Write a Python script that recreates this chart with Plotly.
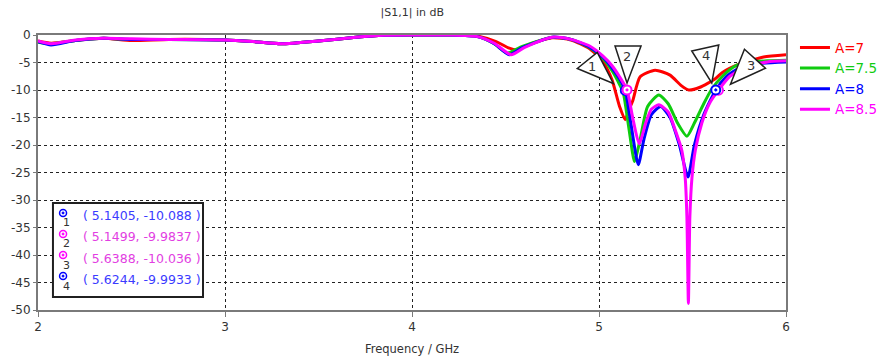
import plotly.graph_objects as go

# S11 sweeps for four values of the parameter A
series_names = ["A=7", "A=7.5", "A=8", "A=8.5"]
series_colors = ["#ff0000", "#10cc10", "#0000ff", "#ff00ff"]

freq_a7 = [2.0, 2.07, 2.2, 2.35, 2.5, 2.7, 3.0, 3.15, 3.3, 3.5, 3.7, 3.85, 4.0, 4.2, 4.35,
           4.45, 4.52, 4.56, 4.62, 4.75, 4.85, 4.95, 5.02, 5.07, 5.11, 5.14, 5.16, 5.18,
           5.22, 5.30, 5.38, 5.44, 5.48, 5.54, 5.62, 5.66, 5.75, 5.88, 6.0]
s11_a7 = [-1.1, -1.5, -1.0, -0.6, -1.0, -0.8, -0.9, -1.2, -1.6, -1.1, -0.4, -0.05, 0.0, 0.0, -0.2,
          -1.2, -2.4, -2.7, -1.8, -0.5, -0.9, -2.5, -4.8, -8.2, -13.0, -15.4, -13.6, -12.0,
          -7.6, -6.4, -7.3, -9.2, -10.0, -9.5, -8.0, -6.8, -5.3, -4.0, -3.6]

freq_a75 = [2.0, 2.07, 2.2, 2.35, 2.5, 2.7, 3.0, 3.15, 3.3, 3.5, 3.7, 3.85, 4.0, 4.2, 4.35,
            4.44, 4.51, 4.58, 4.75, 4.85, 4.95, 5.02, 5.07, 5.11, 5.13, 5.16, 5.19, 5.22,
            5.26, 5.32, 5.37, 5.42, 5.47, 5.51, 5.56, 5.60, 5.66, 5.73, 5.8, 5.9, 6.0]
s11_a75 = [-1.3, -1.6, -1.0, -0.6, -0.8, -0.8, -0.9, -1.2, -1.6, -1.1, -0.4, -0.05, 0.0, 0.0, -0.3,
           -1.6, -3.3, -2.2, -0.4, -0.8, -2.3, -4.2, -6.5, -9.0, -10.5, -17.0, -23.0, -19.0,
           -13.0, -10.9, -12.5, -16.0, -18.4, -16.0, -12.5, -10.0, -7.5, -5.6, -5.0, -4.7, -4.6]

freq_a8 = [2.0, 2.07, 2.2, 2.35, 2.5, 2.7, 3.0, 3.15, 3.3, 3.5, 3.7, 3.85, 4.0, 4.2, 4.35,
           4.44, 4.52, 4.59, 4.75, 4.85, 4.95, 5.02, 5.07, 5.11, 5.1405, 5.17, 5.21, 5.24,
           5.28, 5.33, 5.38, 5.43, 5.476, 5.51, 5.56, 5.6244, 5.68, 5.75, 5.85, 6.0]
s11_a8 = [-1.2, -1.8, -1.0, -0.6, -0.8, -0.8, -0.9, -1.2, -1.6, -1.1, -0.4, -0.05, 0.0, 0.0, -0.3,
          -1.6, -3.6, -2.3, -0.4, -0.8, -2.2, -4.0, -6.0, -8.0, -10.088, -16.0, -23.6, -19.0,
          -14.5, -13.0, -15.0, -20.0, -25.8, -20.0, -14.5, -9.9933, -7.6, -6.0, -5.2, -4.9]

freq_a85 = [2.0, 2.07, 2.2, 2.35, 2.5, 2.7, 3.0, 3.15, 3.3, 3.5, 3.7, 3.85, 4.0, 4.2, 4.35,
            4.44, 4.53, 4.6, 4.75, 4.85, 4.95, 5.02, 5.07, 5.11, 5.1499, 5.18, 5.215, 5.25,
            5.28, 5.32, 5.37, 5.41, 5.443, 5.461, 5.47, 5.478, 5.486, 5.497, 5.515, 5.55,
            5.59, 5.6388, 5.7, 5.8, 5.9, 6.0]
s11_a85 = [-1.1, -1.6, -0.9, -0.6, -0.7, -0.8, -0.9, -1.2, -1.6, -1.1, -0.4, -0.05, 0.0, 0.0, -0.3,
           -1.5, -3.6, -2.3, -0.4, -0.8, -2.0, -3.8, -5.6, -7.6, -9.9837, -15.0, -19.8, -16.0,
           -13.5, -12.7, -14.0, -17.5, -21.0, -26.0, -33.0, -48.8, -33.0, -26.0, -21.0, -16.0,
           -12.5, -10.036, -7.5, -5.6, -4.9, -4.7]

series_freq = [freq_a7, freq_a75, freq_a8, freq_a85]
series_s11 = [s11_a7, s11_a75, s11_a8, s11_a85]

# Curve markers: label, frequency (GHz), level (dB), series index
marker_labels = ["1", "2", "3", "4"]
marker_freq = [5.1405, 5.1499, 5.6388, 5.6244]
marker_s11 = [-10.088, -9.9837, -10.036, -9.9933]
marker_series = [2, 3, 3, 2]
marker_text_colors = ["#3b3bff", "#e23ee2", "#e23ee2", "#3b3bff"]

x_ticks = [2, 3, 4, 5, 6]
y_ticks = [0, -5, -10, -15, -20, -25, -30, -35, -40, -45, -50]

FONT = "DejaVu Sans"

fig = go.Figure()

for name, color, fx, fy in zip(series_names, series_colors, series_freq, series_s11):
    fig.add_trace(go.Scatter(
        x=fx, y=fy, mode="lines", name=f'<span style="color:{color}">{name}</span>',
        line=dict(color=color, width=3, shape="spline", smoothing=0.6),
    ))

# marker circles on the curves
for lab, fx, fy, si in zip(marker_labels, marker_freq, marker_s11, marker_series):
    fig.add_trace(go.Scatter(
        x=[fx], y=[fy], mode="markers", showlegend=False,
        marker=dict(symbol="circle-dot", size=9, color="white",
                    line=dict(color=series_colors[si], width=2)),
    ))

# triangular callouts pointing at each marker (pixel offsets from the marker)
callout_paths = {
    "1": ([(-48, 22), (-28, 38), (-12, 7)], (-33, 24)),
    "2": ([(-12, 44), (14, 44), (0, 7)], (0, 33)),
    "3": ([(26, 41), (47, 22), (12, 6)], (33, 25)),
    "4": ([(-24, 39), (3, 45), (-4, 7)], (-10, 34)),
}
for lab, fx, fy in zip(marker_labels, marker_freq, marker_s11):
    pts, (tx, ty) = callout_paths[lab]
    path = "M " + " L ".join(f"{px},{py}" for px, py in pts) + " Z"
    fig.add_shape(type="path", xref="x", yref="y", xsizemode="pixel", ysizemode="pixel",
                  xanchor=fx, yanchor=fy, path=path,
                  fillcolor="white", line=dict(color="#202020", width=1.5))
    fig.add_annotation(x=fx, y=fy, xref="x", yref="y", xshift=tx, yshift=ty,
                       xanchor="center", yanchor="middle",
                       text=lab, showarrow=False,
                       font=dict(family=FONT, size=13, color="#333333"))

# marker readout table in the lower-left corner
fig.add_shape(type="rect", xref="paper", yref="paper",
              x0=0.020, x1=0.2206, y0=0.047, y1=0.389,
              fillcolor="white", line=dict(color="#202020", width=2))
row_top = 0.342
row_step = 0.0765
icon_x = 0.0335
for i, (lab, fx, fy, col, si) in enumerate(zip(marker_labels, marker_freq, marker_s11,
                                               marker_text_colors, marker_series)):
    yp = row_top - i * row_step
    fig.add_annotation(x=0.0575, y=yp, xref="paper", yref="paper",
                       xanchor="left", yanchor="middle",
                       text=f"( {fx:.5g}, {fy:.5g} )", showarrow=False,
                       font=dict(family=FONT, size=12.5, color=col))
    fig.add_shape(type="circle", xref="paper", yref="paper",
                  xsizemode="pixel", ysizemode="pixel",
                  xanchor=icon_x, yanchor=yp, x0=-3.5, x1=3.5, y0=-0.5, y1=6.5,
                  line=dict(color=series_colors[si], width=1.5), fillcolor="white")
    fig.add_shape(type="circle", xref="paper", yref="paper",
                  xsizemode="pixel", ysizemode="pixel",
                  xanchor=icon_x, yanchor=yp, x0=-1, x1=1, y0=2, y1=4,
                  line=dict(color=series_colors[si], width=1), fillcolor=series_colors[si])
    fig.add_annotation(x=icon_x, y=yp, xref="paper", yref="paper", xshift=3, yshift=-7,
                       xanchor="center", yanchor="middle",
                       text=lab, showarrow=False,
                       font=dict(family=FONT, size=11, color="#333333"))

fig.update_layout(
    width=881, height=357,
    margin=dict(l=38, r=95, t=35, b=47, autoexpand=False),
    paper_bgcolor="white", plot_bgcolor="white",
    font=dict(family=FONT, size=11, color="#333333"),
    title=dict(text="|S1,1| in dB", x=0.468, xanchor="center", y=0.965, yanchor="middle",
               font=dict(family=FONT, size=11, color="#333333")),
    legend=dict(x=1.012, y=1.01, xanchor="left", yanchor="top",
                font=dict(family=FONT, size=13.5), tracegroupgap=0,
                bgcolor="rgba(0,0,0,0)", itemwidth=30),
    showlegend=True,
)
fig.update_xaxes(range=[2, 6], tickvals=x_ticks, ticktext=[str(t) for t in x_ticks],
                 showgrid=True, gridcolor="#222222", griddash="dot", gridwidth=1,
                 showline=True, linecolor="#7a7a7a", linewidth=2, mirror=True,
                 ticks="outside", ticklen=5, tickcolor="#7a7a7a",
                 zeroline=False, tickfont=dict(size=12),
                 title=dict(text="Frequency / GHz", standoff=12, font=dict(size=11.5)))
fig.update_yaxes(range=[-50, 0], tickvals=y_ticks, ticktext=[str(t) for t in y_ticks],
                 showgrid=True, gridcolor="#222222", griddash="dot", gridwidth=1,
                 showline=True, linecolor="#7a7a7a", linewidth=2, mirror=True,
                 ticks="outside", ticklen=3, tickcolor="#7a7a7a",
                 zeroline=False, tickfont=dict(size=12))

fig.write_html("out.html")
